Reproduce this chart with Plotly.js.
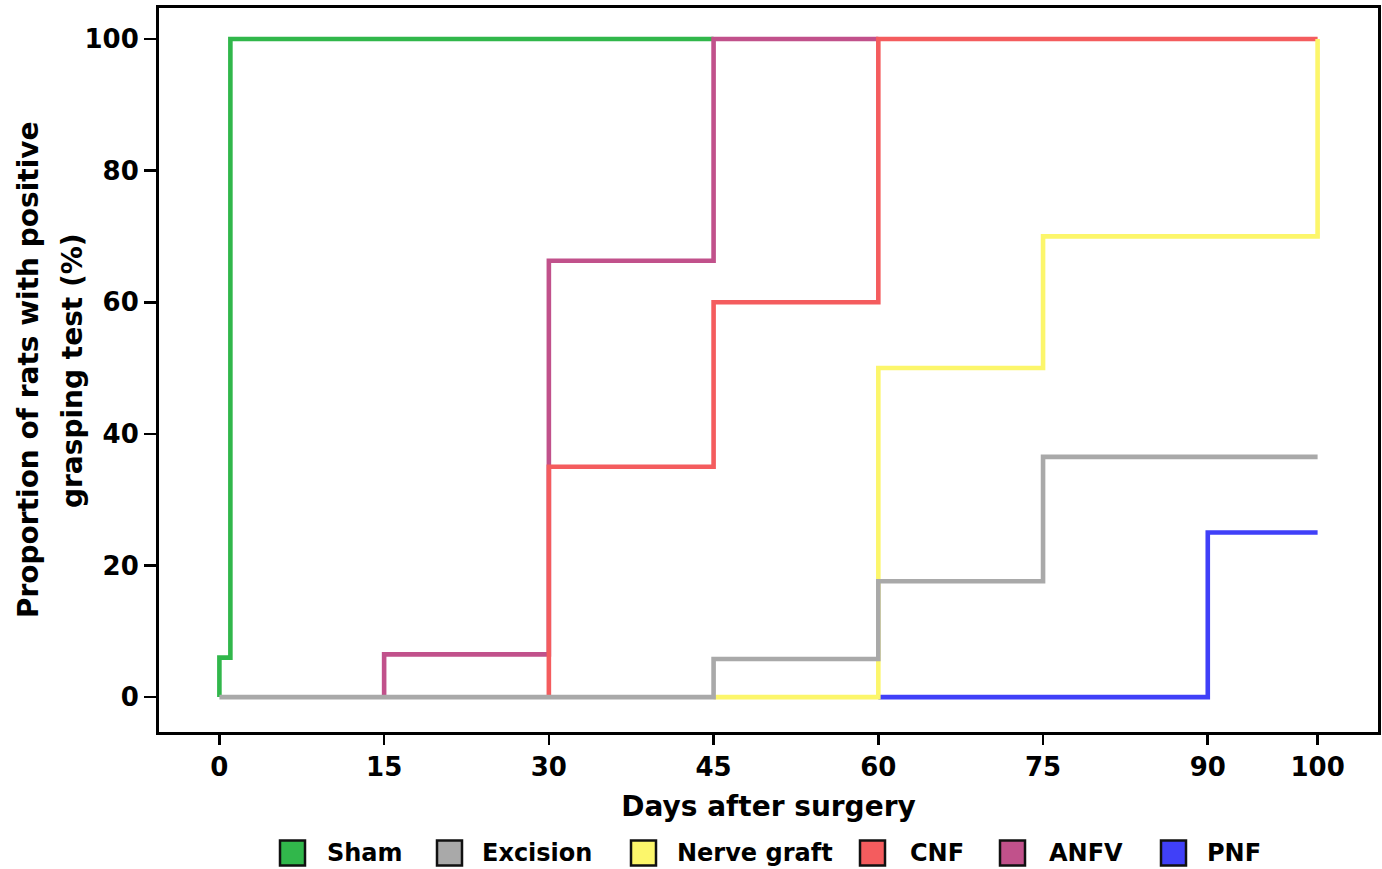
<!DOCTYPE html>
<html>
<head>
<meta charset="utf-8">
<script src="https://cdn.plot.ly/plotly-3.0.1.min.js"></script>
<style>html,body{margin:0;padding:0;background:#fff;}#chart{width:1382px;height:869px;}</style>
</head>
<body>
<div id="chart"></div>
<script>
// Series names and colours
const seriesNames = ["Sham", "Excision", "Nerve graft", "CNF", "ANFV", "PNF"];
const seriesColors = ["#31b74b", "#a9a9a9", "#fcf66b", "#f45c5e", "#c1518b", "#4040f8"];

// Step points (days, % positive) — drawn with step shape 'hv'
const shamDays = [0, 0, 1, 45];
const shamPct = [0, 6, 100, 100];

const excisionDays = [0, 45, 60, 75, 100];
const excisionPct = [0, 5.8, 17.6, 36.5, 36.5];

const graftDays = [45, 60, 75, 100];
const graftPct = [0, 50, 70, 100];

const cnfDays = [30, 30, 45, 60, 100];
const cnfPct = [0, 35, 60, 100, 100];

const anfvDays = [15, 15, 30, 45, 60];
const anfvPct = [0, 6.5, 66.3, 100, 100];

const pnfDays = [60, 90, 100];
const pnfPct = [0, 25, 25];

const xTicks = [0, 15, 30, 45, 60, 75, 90, 100];
const yTicks = [0, 20, 40, 60, 80, 100];

const xTitle = "Days after surgery";
const yTitleLines = ["Proportion of rats with positive", "grasping test (%)"];

const seriesData = {
  "Sham": [shamDays, shamPct],
  "Excision": [excisionDays, excisionPct],
  "Nerve graft": [graftDays, graftPct],
  "CNF": [cnfDays, cnfPct],
  "ANFV": [anfvDays, anfvPct],
  "PNF": [pnfDays, pnfPct]
};

// drawing order (later = on top)
const drawOrder = ["Sham", "PNF", "ANFV", "CNF", "Nerve graft", "Excision"];

const FONT = "DejaVu Sans";
const traces = drawOrder.map(function (name) {
  const i = seriesNames.indexOf(name);
  return {
    type: "scatter", mode: "lines", name: name,
    x: seriesData[name][0], y: seriesData[name][1],
    line: {shape: "hv", color: seriesColors[i], width: 4.6},
    showlegend: false, hoverinfo: "x+y+name"
  };
});

// Manual legend (square swatches + text)
const L = 159, R = 1378, T = 8, B = 732;
const W = R - L, H = B - T;
const swatchLeft = [280, 437, 631, 860, 1000, 1161];
const textLeft = [325, 480, 675, 908, 1047, 1205];
const legY = 853, sw = 25;
const shapes = [], annotations = [];
seriesNames.forEach(function (name, i) {
  shapes.push({
    type: "rect", xref: "paper", yref: "paper",
    x0: (swatchLeft[i] - L) / W, x1: (swatchLeft[i] + sw - L) / W,
    y0: (B - (legY + sw / 2)) / H, y1: (B - (legY - sw / 2)) / H,
    fillcolor: seriesColors[i], line: {color: "#111", width: 2.5}
  });
  annotations.push({
    xref: "paper", yref: "paper", x: (textLeft[i] - L) / W, y: (B - legY) / H,
    xanchor: "left", yanchor: "middle", showarrow: false, text: name,
    font: {family: FONT, size: 24, weight: "bold", color: "#000"}
  });
});
// y-axis title as two rotated lines
const yTitleX = [28, 72];
yTitleLines.forEach(function (t, k) {
  annotations.push({
    xref: "paper", yref: "paper", x: (yTitleX[k] - L) / W, y: 0.5,
    xanchor: "center", yanchor: "middle", showarrow: false, text: t, textangle: -90,
    font: {family: FONT, size: 28, weight: "bold", color: "#000"}
  });
});

const layout = {
  width: 1382, height: 869,
  margin: {l: L, r: 1382 - R, t: T, b: 869 - B, pad: 0},
  paper_bgcolor: "#fff", plot_bgcolor: "#fff",
  font: {family: FONT, size: 24, weight: "bold", color: "#000"},
  showlegend: false,
  xaxis: {
    range: [-5.5, 105.5], tickvals: xTicks, ticktext: xTicks.map(String),
    ticks: "outside", ticklen: 10, tickwidth: 2.6, tickcolor: "#000",
    showline: true, linecolor: "#000", linewidth: 3, mirror: true,
    showgrid: false, zeroline: false,
    tickfont: {family: FONT, size: 26, weight: "bold"},
    title: {text: xTitle, standoff: 16, font: {family: FONT, size: 28, weight: "bold"}}
  },
  yaxis: {
    range: [-5.3, 104.7], tickvals: yTicks,
    ticks: "outside", ticklen: 12, tickwidth: 2.6, tickcolor: "#000",
    showline: true, linecolor: "#000", linewidth: 3, mirror: true,
    showgrid: false, zeroline: false,
    tickfont: {family: FONT, size: 26, weight: "bold"}
  },
  shapes: shapes, annotations: annotations
};

Plotly.newPlot("chart", traces, layout, {displayModeBar: false, staticPlot: true});
</script>
</body>
</html>
